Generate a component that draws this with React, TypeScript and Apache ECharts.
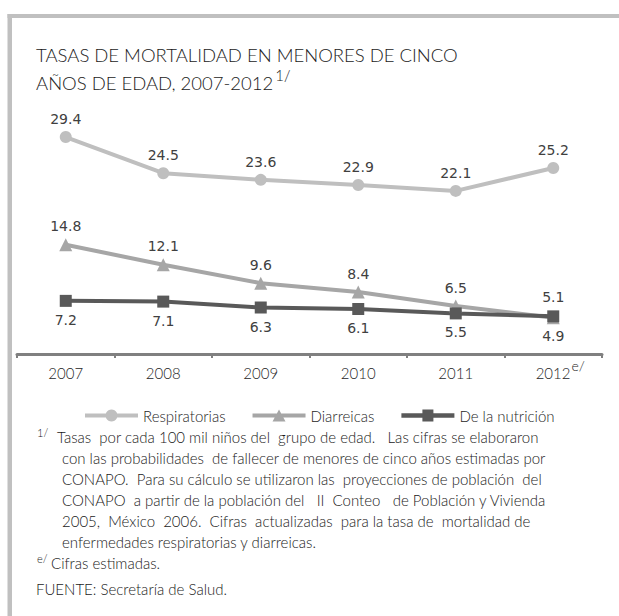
import React, { useEffect, useRef } from "react";
import * as echarts from "echarts";

const years = ["2007", "2008", "2009", "2010", "2011", "2012"];
const respiratorias = [29.4, 24.5, 23.6, 22.9, 22.1, 25.2];
const diarreicas = [14.8, 12.1, 9.6, 8.4, 6.5, 4.9];
const nutricion = [7.2, 7.1, 6.3, 6.1, 5.5, 5.1];
const seriesNames = ["Respiratorias", "Diarreicas", "De la nutrición"];
const titleLine1 = "TASAS DE MORTALIDAD EN MENORES DE CINCO";
const titleLine2 = "AÑOS DE EDAD, 2007-2012";
const noteLines = [
  "Tasas  por cada 100 mil niños del  grupo de edad.   Las cifras se elaboraron",
  "con las probabilidades  de fallecer de menores de cinco años estimadas por",
  "CONAPO.  Para su cálculo se utilizaron las  proyecciones de población  del",
  "CONAPO  a partir de la población del   II  Conteo   de Población y Vivienda",
  "2005,  México  2006.  Cifras  actualizadas  para la tasa de  mortalidad de",
  "enfermedades respiratorias y diarreicas.",
];
const noteEst = "Cifras estimadas.";
const noteSource = "FUENTE: Secretaría de Salud.";

const NOTE_FONT = "Lato, 'Open Sans', sans-serif";
const LABEL_FONT = "'DejaVu Sans', sans-serif";

// legend icons: thick line (union) with the series marker in the middle, box 53 x 12
const BAR = "M0,4 L53,4 L53,8 L0,8 Z";
function circlePath(cx: number, cy: number, r: number, n: number) {
  let d = "";
  for (let i = 0; i < n; i++) {
    const t = (i / n) * Math.PI * 2;
    d += (i === 0 ? "M" : "L") + (cx + r * Math.cos(t)).toFixed(2) + "," + (cy + r * Math.sin(t)).toFixed(2) + " ";
  }
  return d + "Z";
}
const ICON_CIRCLE = "path://" + BAR + " " + circlePath(26.5, 6, 6, 24);
const ICON_TRIANGLE = "path://" + BAR + " M26.5,0 L33,12 L20,12 Z";
const ICON_SQUARE = "path://" + BAR + " M21,0.5 L32,0.5 L32,11.5 L21,11.5 Z";

export default function App() {
  const ref = useRef<HTMLDivElement>(null);
  useEffect(() => {
    const chart = echarts.init(ref.current as HTMLDivElement, null, { renderer: "svg" });
    const last = years.length - 1;
    const labelBase = {
      show: true,
      fontFamily: LABEL_FONT,
      fontSize: 14,
      color: "#404040",
    };
    const noteText = (text: string, x: number, y: number) => ({
      type: "text",
      x,
      y,
      style: { text, font: `300 15px ${NOTE_FONT}`, fill: "#1a1a1a", verticalAlign: "middle" },
    });
    const option: any = {
      animation: false,
      backgroundColor: "#ffffff",
      grid: { left: 17, right: 17, top: 132.6, bottom: 262, containLabel: false },
      xAxis: {
        type: "category",
        data: years,
        boundaryGap: true,
        axisLine: { show: true, lineStyle: { color: "#808080", width: 3 } },
        axisTick: { show: true, alignWithLabel: false, length: 4, lineStyle: { color: "#808080", width: 2 } },
        axisLabel: {
          margin: 4,
          formatter: (v: string) => (v === years[last] ? `{p|${v}}{s|e/}` : `{y|${v}}`),
          rich: {
            y: { fontFamily: NOTE_FONT, fontWeight: 300, fontSize: 15, color: "#262626", padding: [7, 0, 0, 0] },
            p: { fontFamily: NOTE_FONT, fontWeight: 300, fontSize: 15, color: "#262626", padding: [7, 0, 0, 14] },
            s: { fontFamily: NOTE_FONT, fontWeight: 300, fontSize: 14, color: "#262626", padding: [0, 0, 7, 1] },
          },
        },
        splitLine: { show: false },
      },
      yAxis: { type: "value", min: 0, max: 30, show: false, splitLine: { show: false } },
      legend: {
        left: 80,
        top: 403,
        itemWidth: 53,
        itemHeight: 12,
        itemGap: 27,
        symbolKeepAspect: false,
        data: [
          { name: seriesNames[0], icon: ICON_CIRCLE },
          { name: seriesNames[1], icon: ICON_TRIANGLE },
          { name: seriesNames[2], icon: ICON_SQUARE },
        ],
        textStyle: { fontFamily: NOTE_FONT, fontWeight: 300, fontSize: 15, color: "#262626" },
      },
      series: [
        {
          name: seriesNames[0],
          type: "line",
          data: respiratorias,
          symbol: "circle",
          symbolSize: 12,
          lineStyle: { color: "#bfbfbf", width: 4 },
          itemStyle: { color: "#bfbfbf" },
          label: { ...labelBase, position: "top", distance: 5 },
        },
        {
          name: seriesNames[1],
          type: "line",
          data: diarreicas.map((v, i) => (i === last ? { value: v, label: { position: "bottom", distance: 5 } } : v)),
          symbol: "triangle",
          symbolSize: 13,
          lineStyle: { color: "#a6a6a6", width: 4 },
          itemStyle: { color: "#a6a6a6" },
          label: { ...labelBase, position: "top", distance: 5 },
        },
        {
          name: seriesNames[2],
          type: "line",
          data: nutricion.map((v, i) => (i === last ? { value: v, label: { position: "top", distance: 6 } } : v)),
          symbol: "rect",
          symbolSize: 12,
          lineStyle: { color: "#595959", width: 4 },
          itemStyle: { color: "#595959" },
          label: { ...labelBase, position: "bottom", distance: 6 },
        },
      ],
      graphic: [
        { type: "rect", shape: { x: 7.5, y: 14, width: 4.5, height: 602 }, style: { fill: "#c0c0c0" } },
        { type: "rect", shape: { x: 7.5, y: 14, width: 612, height: 4 }, style: { fill: "#c0c0c0" } },
        {
          type: "text",
          x: 36,
          y: 55,
          style: { text: titleLine1, font: `300 18.5px ${NOTE_FONT}`, fill: "#1a1a1a", verticalAlign: "middle" },
        },
        {
          type: "text",
          x: 36,
          y: 79,
          style: {
            text: `{t|${titleLine2}}{s|1/}`,
            verticalAlign: "middle",
            rich: {
              t: { font: `300 18.5px ${NOTE_FONT}`, fill: "#1a1a1a", padding: [8, 0, 0, 0] },
              s: { font: `300 15px ${NOTE_FONT}`, fill: "#1a1a1a", padding: [0, 0, 8, 2] },
            },
          },
        },
        {
          type: "text",
          x: 37,
          y: 437,
          style: {
            text: `{s|1/}`,
            verticalAlign: "middle",
            rich: { s: { font: `300 11px ${NOTE_FONT}`, fill: "#1a1a1a", padding: [0, 0, 10, 0] } },
          },
        },
        noteText(noteLines[0], 57, 437),
        ...noteLines.slice(1).map((t, i) => noteText(t, 62, 458 + i * 21)),
        {
          type: "text",
          x: 37,
          y: 563,
          style: {
            text: `{s|e/}`,
            verticalAlign: "middle",
            rich: { s: { font: `300 11px ${NOTE_FONT}`, fill: "#1a1a1a", padding: [0, 0, 10, 0] } },
          },
        },
        noteText(noteEst, 51, 563),
        noteText(noteSource, 36, 589),
      ],
    };
    chart.setOption(option);
    return () => chart.dispose();
  }, []);
  return (
    <div
      ref={ref}
      style={{ position: "absolute", left: 0, top: 0, width: 619, height: 616, background: "#ffffff" }}
    />
  );
}
